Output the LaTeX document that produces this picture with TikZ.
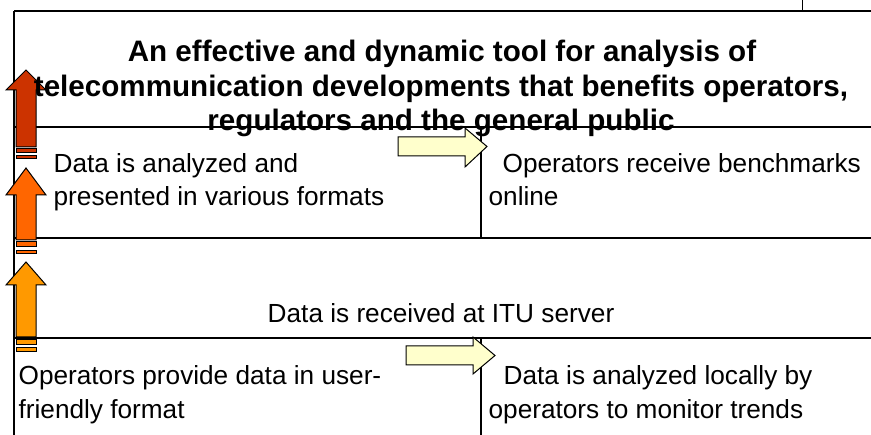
\documentclass[tikz,border=0pt]{standalone}
\usepackage{fontspec}
\setmainfont{Liberation Sans}
\begin{document}
\begin{tikzpicture}[x=1pt,y=-1pt,line width=1.3pt,
  rule/.style={line width=1.3pt},
  uparrow/.style={draw=black,line width=1pt},
  rarrow/.style={draw=black,fill=yellowish,line width=1pt},
  ttl/.style={inner sep=0pt,anchor=base,font=\fontsize{29.6}{34}\selectfont\bfseries},
  body/.style={inner sep=0pt,anchor=base west,font=\fontsize{26.2}{33}\selectfont}]
\definecolor{yellowish}{HTML}{FFFFCC}
\definecolor{arrA}{HTML}{CC3300}
\definecolor{arrB}{HTML}{FF6600}
\definecolor{arrC}{HTML}{FF9900}
\useasboundingbox (0,0) rectangle (871,435);
\fill[white] (0,0) rectangle (871,435);
% frame lines
\draw[rule] (14,11) -- (871,11);
\draw[rule] (14,127) -- (871,127);
\draw[rule] (14,238) -- (871,238);
\draw[rule] (14,338) -- (871,338);
\draw[rule] (14,11) -- (14,435);
\draw[rule] (481,127) -- (481,238);
\draw[rule] (481,338) -- (481,435);
\draw[line width=0.8pt] (802,0) -- (802,11);
% striped up arrows
\filldraw[uparrow,fill=arrA] (26,70) -- (46,90) -- (36,90) -- (36,147) -- (16,147) -- (16,90) -- (6,90) -- cycle;
\filldraw[uparrow,fill=arrA] (16,149) rectangle (36,153);
\filldraw[uparrow,fill=arrA] (16,156) rectangle (36,159);
\filldraw[uparrow,fill=arrB] (26,168) -- (46,195) -- (36,195) -- (36,240) -- (16,240) -- (16,195) -- (6,195) -- cycle;
\filldraw[uparrow,fill=arrB] (16,242) rectangle (36,247);
\filldraw[uparrow,fill=arrB] (16,251) rectangle (36,254);
\filldraw[uparrow,fill=arrC] (26,262) -- (46,285) -- (36,285) -- (36,337) -- (16,337) -- (16,285) -- (6,285) -- cycle;
\filldraw[uparrow,fill=arrC] (16,340) rectangle (36,345);
\filldraw[uparrow,fill=arrC] (16,348) rectangle (36,352);
% right arrows
\filldraw[rarrow] (398,137) -- (465,137) -- (465,128) -- (487,146.5) -- (465,167) -- (465,156) -- (398,156) -- cycle;
\filldraw[rarrow] (406,346) -- (473,346) -- (473,337) -- (495,355.5) -- (473,374) -- (473,365) -- (406,365) -- cycle;
% title
\node[ttl] (t1) at (442,62) {An effective and dynamic tool for analysis of};
\node[ttl] (t2) at (441,97) {telecommunication developments that benefits operators,};
\node[ttl] (t3) at (441,131) {regulators and the general public};
% texts
\node[body] (a1) at (53,173) {Data is analyzed and};
\node[body] (a2) at (53,206) {presented in various formats};
\node[body] (b1) at (502,173) {Operators receive benchmarks};
\node[body] (b2) at (488,206) {online};
\node[body,anchor=base] (c1) at (441,323) {Data is received at ITU server};
\node[body] (d1) at (18,385) {Operators provide data in user-};
\node[body] (d2) at (18,419) {friendly format};
\node[body] (e1) at (503,385) {Data is analyzed locally by};
\node[body] (e2) at (488,419) {operators to monitor trends};
\end{tikzpicture}
\end{document}
